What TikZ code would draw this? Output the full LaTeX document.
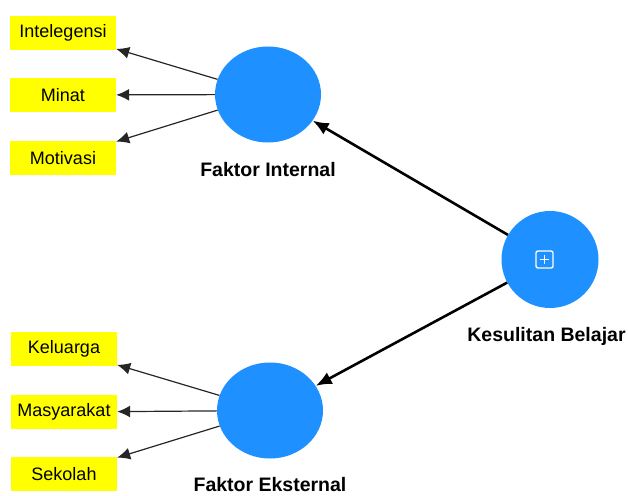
\documentclass[tikz,border=0pt]{standalone}
\usepackage{fontspec}
\setmainfont{Liberation Sans}
\usetikzlibrary{arrows.meta,shapes.geometric}

\definecolor{latentblue}{RGB}{30,144,255}
\definecolor{indyellow}{RGB}{255,255,0}

\tikzset{
  indicator/.style={fill=indyellow, minimum width=106pt, minimum height=34pt, inner sep=0pt, font=\fontsize{18}{20}\selectfont},
  latent/.style={ellipse, fill=latentblue, minimum width=106pt, minimum height=96pt, inner sep=0pt},
  latentname/.style={font=\fontsize{19.5}{22}\selectfont\bfseries},
  loading/.style={-{Latex[length=13pt,width=12pt]}, line width=1.2pt, draw=black!85},
  structural/.style={-{Latex[length=16pt,width=13pt]}, line width=2.6pt, draw=black}
}

\begin{document}
\begin{tikzpicture}[x=1pt,y=-1pt]
\useasboundingbox (0,0) rectangle (628,495);
% Top: Faktor Internal with its indicators
\node[indicator] (intelegensi) at (63,33) {Intelegensi};
\node[indicator] (minat) at (63,95) {Minat};
\node[indicator] (motivasi) at (63,158) {Motivasi};
\node[latent] (internal) at (268,94.5) {};
\node[latentname] (internallabel) at (268,170) {Faktor Internal};
\draw[loading] (internal) -- (intelegensi);
\draw[loading] (internal) -- (minat);
\draw[loading] (internal) -- (motivasi);
% Bottom: Faktor Eksternal with its indicators
\node[indicator] (keluarga) at (64,349) {Keluarga};
\node[indicator] (masyarakat) at (64,412) {Masyarakat};
\node[indicator] (sekolah) at (64,474) {Sekolah};
\node[latent] (eksternal) at (270,410.5) {};
\node[latentname] (eksternallabel) at (270,485) {Faktor Eksternal};
\draw[loading] (eksternal) -- (keluarga);
\draw[loading] (eksternal) -- (masyarakat);
\draw[loading] (eksternal) -- (sekolah);
% Right: Kesulitan Belajar
\node[circle, fill=latentblue, minimum size=97pt, inner sep=0pt] (kesulitan) at (550,259.5) {};
\node[latentname] (kesulitanlabel) at (546.5,336) {Kesulitan Belajar};
\draw[white, line width=1.4pt, rounded corners=2pt] (536,251) rectangle (553,268);
\draw[white, line width=1.4pt] (540,259.5) -- (549,259.5) (544.5,255) -- (544.5,264);
\draw[structural] (kesulitan) -- (internal);
\draw[structural] (kesulitan) -- (eksternal);
\end{tikzpicture}
\end{document}
